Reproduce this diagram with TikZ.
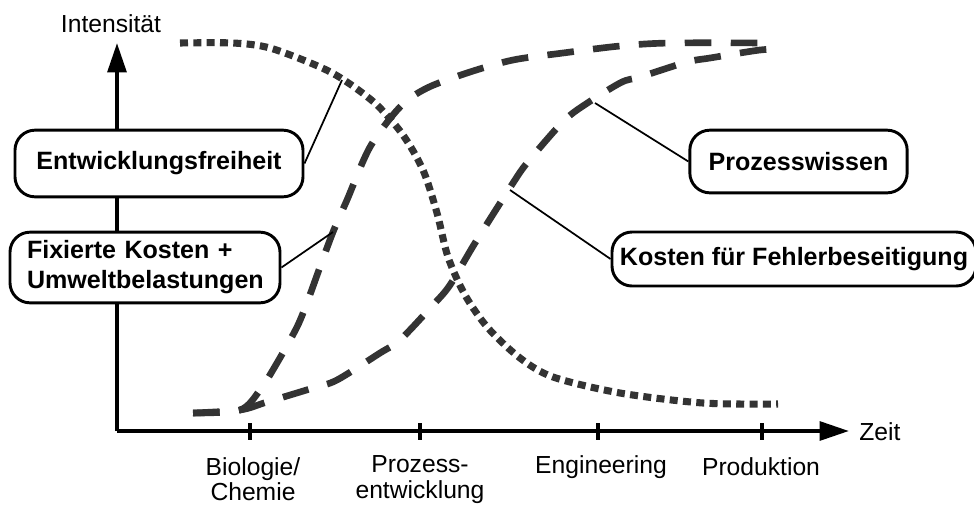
\documentclass[tikz,border=0pt]{standalone}
\usepackage{fontspec}
\setmainfont{Liberation Sans}
\usetikzlibrary{arrows.meta}
\definecolor{curvegray}{HTML}{333333}
\begin{document}
\begin{tikzpicture}[x=0.75pt,y=-0.75pt,
  axis/.style={line width=3pt,black},
  tip/.style={-{Triangle[length=22pt,width=14pt]}},
  tickmark/.style={line width=3pt},
  lbl/.style={font=\fontsize{18.5}{19}\selectfont,align=center,inner sep=0pt},
  box/.style={draw,line width=2.2pt,rounded corners=15pt,fill=white,
    font=\bfseries\fontsize{18.8}{22.5}\selectfont,inner sep=0pt},
  dotline/.style={curvegray,line width=5.3pt,dash pattern=on 6pt off 4pt},
  dashline/.style={curvegray,line width=5pt,dash pattern=on 20pt off 14.5pt},
  lead/.style={line width=1.3pt}]
\useasboundingbox (0,0) rectangle (974,508);

% axes
\coordinate (origin) at (117,431);
\coordinate (ytop) at (117,43);
\coordinate (xend) at (849,431);
\draw[axis,tip] (origin) -- (ytop);
\draw[axis,tip] (origin) -- (xend);
\node[lbl] (ylabel) at (111,24) {Intensität};
\node[lbl,anchor=west] (xlabel) at (859,432) {Zeit};

% ticks and phase labels
\foreach \x in {250,420,598,762}
  \draw[tickmark] (\x,423) -- (\x,440);
\node[lbl] (bio) at (253,479.5) {Biologie/\\Chemie};
\node[lbl] (proz) at (420,479.5) {Prozess-\\entwicklung};
\node[lbl] (eng) at (601,467) {Engineering};
\node[lbl] (prod) at (761,467) {Produktion};

% curves
\draw[dotline] plot[smooth] coordinates {(180,43) (233,43) (270,48) (320,67)
  (347,82) (377,105) (403,135) (423,170) (437,213) (448,257) (465,295)
  (488,328) (520,358) (553,377) (620,393) (703,403) (778,404)};
\draw[dashline] plot[smooth] coordinates {(193,413) (240,410) (260,390)
  (277,363) (297,327) (308,300) (320,267) (333,232) (347,200) (370,147)
  (400,107) (427,88) (470,72) (513,60) (563,53) (620,46) (670,43) (773,43)};
\draw[dashline] plot[smooth] coordinates {(193,413) (240,410) (267,402)
  (313,388) (337,380) (380,353) (400,340) (433,305) (450,285) (475,243)
  (513,183) (527,163) (558,127) (577,110) (620,83) (640,77) (687,62)
  (710,58) (760,50) (785,49)};

% points on the curves the labels refer to
\coordinate (c1) at (342,80);
\coordinate (c2) at (333,232);
\coordinate (c3) at (595,103);
\coordinate (c4) at (510,190);

% label boxes
\node[box,minimum width=216pt,minimum height=50pt] (free) at (159,163.5)
  {Entwicklungsfreiheit};
\node[box,minimum width=202.5pt,minimum height=53pt,align=left,
  text width=177pt,inner xsep=12.75pt] (fix) at (145,267.5)
  {Fixierte Kosten +\\Umweltbelastungen};
\node[box,minimum width=163pt,minimum height=47pt] (wissen) at (798.5,161.5)
  {Prozesswissen};
\node[box,minimum width=273pt,minimum height=40.5pt] (fehler) at (794,259)
  {Kosten für Fehlerbeseitigung};

% leader lines
\draw[lead] (free.east) -- (c1);
\draw[lead] (fix.east) -- (c2);
\draw[lead] (wissen.west) -- (c3);
\draw[lead] (fehler.west) -- (c4);
\end{tikzpicture}
\end{document}
